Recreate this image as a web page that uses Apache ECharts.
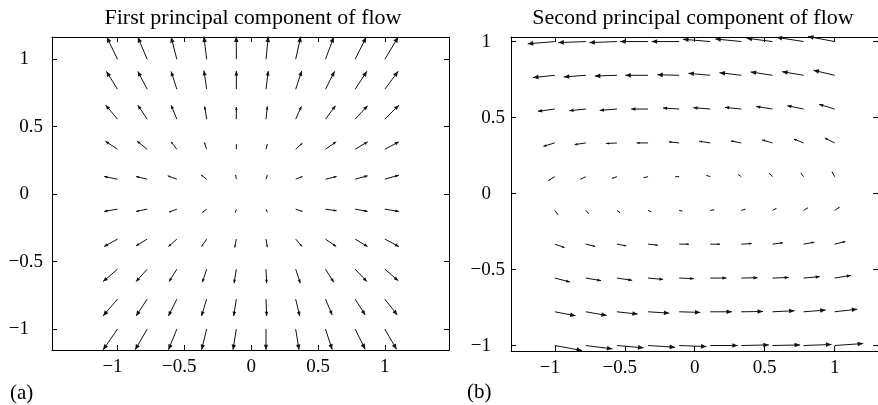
<!DOCTYPE html>
<html>
<head>
<meta charset="utf-8">
<script src="https://cdn.jsdelivr.net/npm/echarts@6/dist/echarts.min.js"></script>
<style>
  html, body { margin: 0; padding: 0; background: #fff; }
  #chart { width: 878px; height: 405px; }
</style>
</head>
<body>
<div id="chart"></div>
<script>
// grid points of the quiver (x left->right, y top->bottom)
const gridX = [-1, -0.778, -0.556, -0.333, -0.111, 0.111, 0.333, 0.556, 0.778, 1];
const gridY = [1, 0.778, 0.556, 0.333, 0.111, -0.111, -0.333, -0.556, -0.778, -1];
const tickValues = [-1, -0.5, 0, 0.5, 1];

const titleA = 'First principal component of flow';
const titleB = 'Second principal component of flow';

// panel (a): first principal component, rows = gridY, cols = gridX
const firstU = [
  [-0.080, -0.070, -0.043, -0.020, 0.000, 0.017, 0.038, 0.062, 0.083, 0.100],
  [-0.083, -0.070, -0.043, -0.020, 0.000, 0.017, 0.045, 0.068, 0.088, 0.100],
  [-0.088, -0.070, -0.043, -0.015, 0.000, 0.010, 0.043, 0.075, 0.093, 0.105],
  [-0.090, -0.075, -0.043, -0.017, 0.000, 0.010, 0.050, 0.080, 0.093, 0.105],
  [-0.100, -0.083, -0.068, -0.043, -0.005, 0.010, 0.050, 0.083, 0.093, 0.105],
  [-0.100, -0.083, -0.058, -0.032, -0.008, 0.010, 0.050, 0.083, 0.093, 0.105],
  [-0.100, -0.083, -0.063, -0.038, -0.012, 0.010, 0.048, 0.080, 0.093, 0.105],
  [-0.108, -0.083, -0.058, -0.032, -0.017, 0.005, 0.035, 0.062, 0.088, 0.100],
  [-0.108, -0.083, -0.063, -0.038, -0.020, 0.005, 0.030, 0.050, 0.075, 0.093],
  [-0.108, -0.090, -0.063, -0.038, -0.025, 0.000, 0.025, 0.050, 0.075, 0.088]
];
const firstV = [
  [0.165, 0.165, 0.165, 0.168, 0.168, 0.168, 0.168, 0.165, 0.165, 0.165],
  [0.132, 0.132, 0.132, 0.138, 0.135, 0.135, 0.135, 0.133, 0.133, 0.133],
  [0.104, 0.104, 0.104, 0.095, 0.090, 0.095, 0.095, 0.100, 0.100, 0.104],
  [0.060, 0.060, 0.055, 0.050, 0.037, 0.037, 0.045, 0.055, 0.055, 0.055],
  [0.020, 0.020, 0.025, 0.032, 0.032, 0.030, 0.020, 0.020, 0.025, 0.030],
  [-0.017, -0.017, -0.022, -0.025, -0.025, -0.022, -0.017, -0.012, -0.017, -0.017],
  [-0.055, -0.050, -0.055, -0.055, -0.062, -0.060, -0.055, -0.055, -0.055, -0.055],
  [-0.092, -0.092, -0.092, -0.097, -0.104, -0.104, -0.104, -0.097, -0.092, -0.085],
  [-0.125, -0.125, -0.125, -0.125, -0.125, -0.125, -0.125, -0.117, -0.117, -0.117],
  [-0.154, -0.154, -0.154, -0.154, -0.154, -0.154, -0.154, -0.152, -0.150, -0.150]
];

// panel (b): second principal component
const secondU = [
  [-0.193, -0.197, -0.197, -0.200, -0.197, -0.195, -0.186, -0.186, -0.193, -0.190],
  [-0.156, -0.158, -0.158, -0.163, -0.156, -0.156, -0.156, -0.156, -0.153, -0.151],
  [-0.121, -0.118, -0.123, -0.121, -0.116, -0.121, -0.116, -0.116, -0.116, -0.111],
  [-0.081, -0.081, -0.077, -0.081, -0.074, -0.079, -0.074, -0.074, -0.070, -0.070],
  [-0.046, -0.039, -0.035, -0.032, -0.028, -0.028, -0.023, -0.023, -0.019, -0.019],
  [0.023, 0.021, 0.023, 0.023, 0.023, 0.028, 0.030, 0.028, 0.030, 0.035],
  [0.070, 0.067, 0.067, 0.070, 0.070, 0.070, 0.074, 0.074, 0.077, 0.077],
  [0.109, 0.109, 0.109, 0.107, 0.105, 0.116, 0.116, 0.116, 0.116, 0.116],
  [0.148, 0.149, 0.148, 0.151, 0.151, 0.155, 0.155, 0.158, 0.158, 0.162],
  [0.195, 0.190, 0.190, 0.193, 0.195, 0.197, 0.197, 0.197, 0.199, 0.204]
];
const secondV = [
  [-0.015, -0.007, -0.007, 0.000, 0.000, 0.015, 0.017, 0.022, 0.028, 0.033],
  [-0.015, -0.011, -0.005, 0.000, 0.004, 0.013, 0.017, 0.022, 0.024, 0.033],
  [-0.015, -0.011, -0.009, 0.000, 0.007, 0.009, 0.011, 0.017, 0.022, 0.031],
  [-0.022, -0.011, -0.004, 0.000, 0.007, 0.011, 0.013, 0.020, 0.026, 0.033],
  [-0.026, -0.017, -0.011, -0.007, 0.000, 0.009, 0.015, 0.022, 0.024, 0.033],
  [-0.028, -0.022, -0.015, -0.009, -0.004, 0.004, 0.009, 0.013, 0.017, 0.022],
  [-0.022, -0.015, -0.011, -0.007, 0.000, 0.000, 0.004, 0.009, 0.013, 0.017],
  [-0.026, -0.017, -0.015, -0.009, -0.004, 0.000, 0.002, 0.004, 0.009, 0.017],
  [-0.026, -0.024, -0.015, -0.009, -0.004, 0.000, 0.002, 0.007, 0.011, 0.017],
  [-0.033, -0.022, -0.015, -0.011, -0.007, 0.000, 0.004, 0.004, 0.007, 0.013]
];

const FONT = '"Liberation Serif", "DejaVu Serif", serif';

function toQuiver(U, V) {
  const out = [];
  gridY.forEach((y, r) => {
    gridX.forEach((x, c) => {
      out.push([x, y, U[r][c], V[r][c]]);
    });
  });
  return out;
}

// arrow = shaft from (x,y) to (x+u,y+v) plus a small filled head
function renderArrow(params, api) {
  const x = api.value(0), y = api.value(1);
  const u = api.value(2), v = api.value(3);
  const p0 = api.coord([x, y]);
  const p1 = api.coord([x + u, y + v]);
  const dx = p1[0] - p0[0], dy = p1[1] - p0[1];
  const len = Math.sqrt(dx * dx + dy * dy);
  if (len < 0.3) return null;
  const ux = dx / len, uy = dy / len;
  const hl = Math.min(len * 0.25, 5.5);
  const hw = hl * 0.42;
  const bx = p1[0] - ux * hl, by = p1[1] - uy * hl;
  return {
    type: 'group',
    children: [
      {
        type: 'line',
        shape: { x1: p0[0], y1: p0[1], x2: p1[0], y2: p1[1] },
        style: { stroke: '#111', lineWidth: 1 }
      },
      {
        type: 'polygon',
        shape: { points: [[p1[0], p1[1]], [bx - uy * hw, by + ux * hw], [bx + uy * hw, by - ux * hw]] },
        style: { fill: '#111' }
      }
    ]
  };
}

// x labels: digits centred on the tick, minus sign hangs to the left
function xLabel(val) {
  const s = String(Math.abs(val));
  return val < 0 ? '{d|\u2212' + s + '}{m| }' : '{d|' + s + '}';
}
// y labels: digits start at the same x, minus sign hangs to the left
function yLabel(val) {
  const s = String(Math.abs(val));
  const pad = s.length === 1 ? '{p| }' : '';
  return '{d|' + (val < 0 ? '\u2212' : '') + s + '}' + pad;
}

const richStyle = {
  d: { fontFamily: FONT, fontSize: 19, color: '#000' },
  m: { width: 10, fontFamily: FONT, fontSize: 19 },
  p: { width: 14, fontFamily: FONT, fontSize: 19 }
};

const line = { show: true, onZero: false, lineStyle: { color: '#000', width: 1 } };
const tick = { show: true, inside: true, length: 5, customValues: tickValues, lineStyle: { color: '#000' } };

function makeX(gridIndex, min, max, pos, withLabels) {
  return {
    type: 'value', gridIndex: gridIndex, position: pos, min: min, max: max,
    axisLine: line, axisTick: tick, splitLine: { show: false },
    axisLabel: withLabels ? {
      show: true, customValues: tickValues, margin: 8,
      formatter: xLabel, rich: richStyle
    } : { show: false }
  };
}
function makeY(gridIndex, min, max, pos, withLabels, margin) {
  return {
    type: 'value', gridIndex: gridIndex, position: pos, min: min, max: max,
    axisLine: line, axisTick: tick, splitLine: { show: false },
    axisLabel: withLabels ? {
      show: true, customValues: tickValues, margin: margin,
      formatter: yLabel, rich: richStyle
    } : { show: false }
  };
}

const chart = echarts.init(document.getElementById('chart'), null, { renderer: 'canvas' });

const option = {
  backgroundColor: '#fff',
  animation: false,
  title: [
    { text: titleA, left: 248, top: 2, textAlign: 'center',
      textStyle: { fontFamily: FONT, fontSize: 22, fontWeight: 'normal', color: '#000' } },
    { text: titleB, left: 688, top: 2, textAlign: 'center',
      textStyle: { fontFamily: FONT, fontSize: 22, fontWeight: 'normal', color: '#000' } },
    { text: '(a)', left: 5, top: 378,
      textStyle: { fontFamily: FONT, fontSize: 21, fontWeight: 'normal', color: '#000' } },
    { text: '(b)', left: 462, top: 377,
      textStyle: { fontFamily: FONT, fontSize: 21, fontWeight: 'normal', color: '#000' } }
  ],
  grid: [
    { left: 52, top: 37, width: 397, height: 313 },
    { left: 511, top: 37, width: 371, height: 314 }
  ],
  xAxis: [
    makeX(0, -1.49, 1.48, 'bottom', true),
    makeX(0, -1.49, 1.48, 'top', false),
    makeX(1, -1.313, 1.31, 'bottom', true),
    makeX(1, -1.313, 1.31, 'top', false)
  ],
  yAxis: [
    makeY(0, -1.155, 1.165, 'left', true, 9),
    makeY(0, -1.155, 1.165, 'right', false),
    makeY(1, -1.036, 1.03, 'left', true, 6),
    makeY(1, -1.036, 1.03, 'right', false)
  ],
  series: [
    {
      type: 'custom', name: 'first', xAxisIndex: 0, yAxisIndex: 0,
      renderItem: renderArrow, encode: { x: 0, y: 1 },
      data: toQuiver(firstU, firstV), clip: false, silent: true
    },
    {
      type: 'custom', name: 'second', xAxisIndex: 2, yAxisIndex: 2,
      renderItem: renderArrow, encode: { x: 0, y: 1 },
      data: toQuiver(secondU, secondV), clip: false, silent: true
    }
  ]
};

chart.setOption(option);
</script>
</body>
</html>
